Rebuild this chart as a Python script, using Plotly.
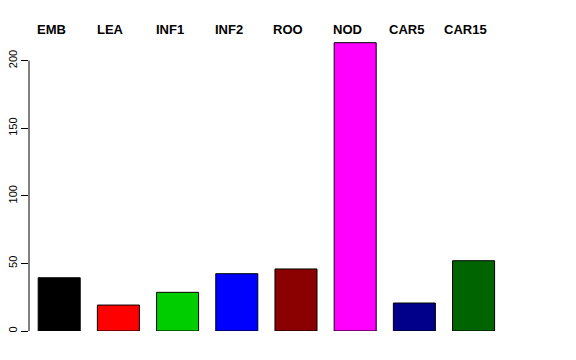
import plotly.graph_objects as go

categories = ["EMB", "LEA", "INF1", "INF2", "ROO", "NOD", "CAR5", "CAR15"]
values = [39.4, 19.2, 28.6, 42.4, 45.9, 213.3, 20.7, 52.0]
colors = ["#000000", "#FF0000", "#00CD00", "#0000FF", "#8B0000", "#FF00FF", "#00008B", "#006400"]
y_ticks = [0, 50, 100, 150, 200]

x_idx = list(range(len(categories)))

fig = go.Figure()
fig.add_trace(go.Bar(
    x=x_idx, y=values, width=0.71,
    marker=dict(color=colors, line=dict(color="#000000", width=1)),
    hoverinfo="skip",
))

for i, c in enumerate(categories):
    fig.add_annotation(x=i, y=1, xref="x", yref="paper", text="<b>%s</b>" % c,
                       showarrow=False, xshift=-8, yshift=11, yanchor="middle",
                       font=dict(size=13, color="#000000", family="Liberation Sans"))

fig.add_shape(type="line", xref="paper", yref="y", x0=0, x1=0, y0=y_ticks[0], y1=y_ticks[-1],
              line=dict(color="#000000", width=1))

fig.update_layout(
    width=576, height=360,
    margin=dict(l=29, r=72, t=40, b=29),
    paper_bgcolor="white", plot_bgcolor="white",
    showlegend=False,
    font=dict(family="Liberation Sans", color="#000000"),
    xaxis=dict(range=[-0.51, 7.514], showgrid=False, zeroline=False, showline=False,
               showticklabels=False, ticks="", automargin=False),
    yaxis=dict(range=[0, 215.3], showgrid=False, zeroline=False, showline=False,
               tickvals=y_ticks, ticktext=[str(v) for v in y_ticks], automargin=False,
               ticks="outside", ticklen=7, tickcolor="#000000", tickwidth=1,
               tickangle=-90, tickfont=dict(size=11, color="#000000")),
)
fig.write_html("out.html")
